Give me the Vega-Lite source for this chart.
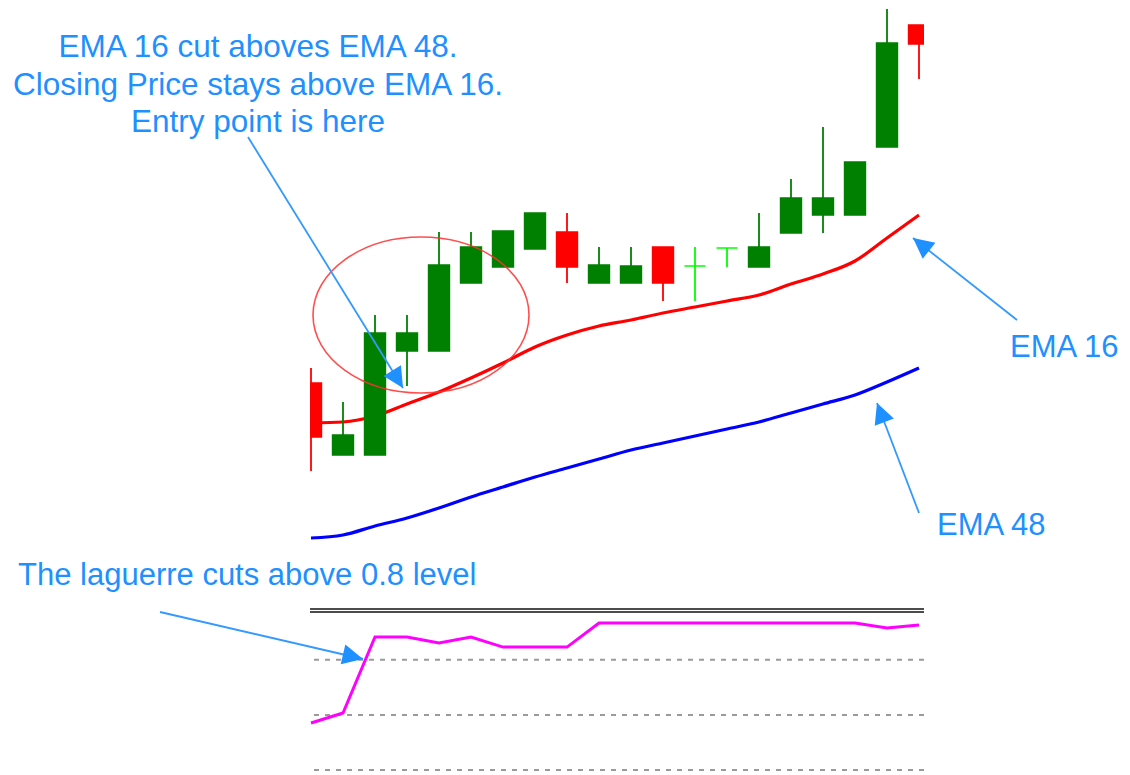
{
  "$schema": "https://vega.github.io/schema/vega-lite/v6.json",
  "width": 614,
  "height": 775,
  "autosize": {"type": "none"},
  "padding": {"left": 310, "right": 206, "top": 0, "bottom": 0},
  "background": "white",
  "config": {"view": {"stroke": null}},
  "datasets": {
    "candles": [
      {"bar": 0, "open": 1.3087, "high": 1.3102, "low": 1.2999, "close": 1.3033},
      {"bar": 1, "open": 1.3015, "high": 1.3068, "low": 1.3015, "close": 1.3035},
      {"bar": 2, "open": 1.3015, "high": 1.3155, "low": 1.3015, "close": 1.3137},
      {"bar": 3, "open": 1.3119, "high": 1.3155, "low": 1.3084, "close": 1.3137},
      {"bar": 4, "open": 1.3119, "high": 1.3238, "low": 1.3119, "close": 1.3205},
      {"bar": 5, "open": 1.3187, "high": 1.3238, "low": 1.3187, "close": 1.3223},
      {"bar": 6, "open": 1.3203, "high": 1.3239, "low": 1.3203, "close": 1.3239},
      {"bar": 7, "open": 1.3221, "high": 1.3257, "low": 1.3221, "close": 1.3257},
      {"bar": 8, "open": 1.3238, "high": 1.3257, "low": 1.3187, "close": 1.3203},
      {"bar": 9, "open": 1.3187, "high": 1.3223, "low": 1.3187, "close": 1.3205},
      {"bar": 10, "open": 1.3187, "high": 1.3223, "low": 1.3187, "close": 1.3204},
      {"bar": 11, "open": 1.3223, "high": 1.3223, "low": 1.3169, "close": 1.3187},
      {"bar": 12, "open": 1.3204, "high": 1.3223, "low": 1.3169, "close": 1.3204},
      {"bar": 13, "open": 1.3222, "high": 1.3222, "low": 1.3203, "close": 1.3222},
      {"bar": 14, "open": 1.3203, "high": 1.3257, "low": 1.3203, "close": 1.3223},
      {"bar": 15, "open": 1.3237, "high": 1.3291, "low": 1.3237, "close": 1.3272},
      {"bar": 16, "open": 1.3255, "high": 1.3343, "low": 1.3237, "close": 1.3272},
      {"bar": 17, "open": 1.3255, "high": 1.3308, "low": 1.3255, "close": 1.3308},
      {"bar": 18, "open": 1.3323, "high": 1.3461, "low": 1.3323, "close": 1.3427},
      {"bar": 19, "open": 1.3445, "high": 1.3445, "low": 1.3391, "close": 1.3426}
    ],
    "ema": [
      {"bar": 0, "ema16": 1.3047, "ema48": 1.2932},
      {"bar": 1, "ema16": 1.3048, "ema48": 1.2935},
      {"bar": 2, "ema16": 1.3054, "ema48": 1.2944},
      {"bar": 3, "ema16": 1.3066, "ema48": 1.2952},
      {"bar": 4, "ema16": 1.3078, "ema48": 1.2962},
      {"bar": 5, "ema16": 1.3092, "ema48": 1.2973},
      {"bar": 6, "ema16": 1.3107, "ema48": 1.2983},
      {"bar": 7, "ema16": 1.3123, "ema48": 1.2993},
      {"bar": 8, "ema16": 1.3135, "ema48": 1.3002},
      {"bar": 9, "ema16": 1.3144, "ema48": 1.3011},
      {"bar": 10, "ema16": 1.3150, "ema48": 1.3020},
      {"bar": 11, "ema16": 1.3157, "ema48": 1.3027},
      {"bar": 12, "ema16": 1.3163, "ema48": 1.3034},
      {"bar": 13, "ema16": 1.3169, "ema48": 1.3041},
      {"bar": 14, "ema16": 1.3175, "ema48": 1.3048},
      {"bar": 15, "ema16": 1.3186, "ema48": 1.3057},
      {"bar": 16, "ema16": 1.3196, "ema48": 1.3066},
      {"bar": 17, "ema16": 1.3209, "ema48": 1.3075},
      {"bar": 18, "ema16": 1.3232, "ema48": 1.3088},
      {"bar": 19, "ema16": 1.3255, "ema48": 1.3102}
    ],
    "laguerre": [
      {"bar": 0, "value": 0.456},
      {"bar": 1, "value": 0.510},
      {"bar": 2, "value": 0.924},
      {"bar": 3, "value": 0.924},
      {"bar": 4, "value": 0.891},
      {"bar": 5, "value": 0.924},
      {"bar": 6, "value": 0.869},
      {"bar": 7, "value": 0.869},
      {"bar": 8, "value": 0.869},
      {"bar": 9, "value": 1.0},
      {"bar": 10, "value": 1.0},
      {"bar": 11, "value": 1.0},
      {"bar": 12, "value": 1.0},
      {"bar": 13, "value": 1.0},
      {"bar": 14, "value": 1.0},
      {"bar": 15, "value": 1.0},
      {"bar": 16, "value": 1.0},
      {"bar": 17, "value": 1.0},
      {"bar": 18, "value": 0.973},
      {"bar": 19, "value": 0.989}
    ],
    "levels": [{"level": 0.8}, {"level": 0.5}, {"level": 0.2}],
    "border": [{"level": 1.076}, {"level": 1.06}],
    "callout": [
      {"label": "EMA 16 cut aboves EMA 48.", "bar": -1.65625, "price": 1.3413},
      {"label": "Closing Price stays above EMA 16.", "bar": -1.65625, "price": 1.3375},
      {"label": "Entry point is here", "bar": -1.65625, "price": 1.3338}
    ],
    "labels": [
      {"label": "EMA 16", "bar": 21.84375, "price": 1.3113},
      {"label": "EMA 48", "bar": 19.5625, "price": 1.2935},
      {"label": "The laguerre cuts above 0.8 level", "bar": -9.15625, "price": 1.2885}
    ],
    "arrows": [
      {"name": "entry", "x1": -1.96875, "y1": 1.3333, "x2": 2.875, "y2": 1.3082},
      {"name": "ema16", "x1": 22.0625, "y1": 1.3150, "x2": 18.8125, "y2": 1.3232},
      {"name": "ema48", "x1": 19.0, "y1": 1.2957, "x2": 17.6875, "y2": 1.3067},
      {"name": "laguerre", "x1": -4.71875, "y1": 1.2858, "x2": 1.625, "y2": 1.2811}
    ],
    "circle": [{"bar": 3.4375, "price": 1.3155}]
  },
  "resolve": {"scale": {"y": "independent"}},
  "layer": [
    {
      "data": {"name": "levels"},
      "mark": {"type": "rule", "color": "#9a9a9a", "strokeWidth": 2, "strokeDash": [5, 6]},
      "encoding": {
        "y": {"field": "level", "type": "quantitative", "axis": null,
              "scale": {"domain": [0.1728, 4.3905], "nice": false, "zero": false}}
      }
    },
    {
      "data": {"name": "border"},
      "mark": {"type": "rule", "color": "#111111", "strokeWidth": 1.4},
      "encoding": {
        "y": {"field": "level", "type": "quantitative", "axis": null,
              "scale": {"domain": [0.1728, 4.3905], "nice": false, "zero": false}}
      }
    },
    {
      "data": {"name": "laguerre"},
      "mark": {"type": "line", "color": "#ff00ff", "strokeWidth": 3},
      "encoding": {
        "x": {"field": "bar", "type": "quantitative", "axis": null,
              "scale": {"domain": [-0.03125, 19.15625], "nice": false, "zero": false, "padding": 0}},
        "y": {"field": "value", "type": "quantitative", "axis": null,
              "scale": {"domain": [0.1728, 4.3905], "nice": false, "zero": false}}
      }
    },
    {
      "data": {"name": "ema"},
      "mark": {"type": "line", "color": "#ff0000", "strokeWidth": 3.2, "interpolate": "monotone"},
      "encoding": {
        "x": {"field": "bar", "type": "quantitative", "axis": null,
              "scale": {"domain": [-0.03125, 19.15625], "nice": false, "zero": false, "padding": 0}},
        "y": {"field": "ema16", "type": "quantitative", "axis": null,
              "scale": {"domain": [1.2695, 1.3470], "nice": false, "zero": false}}
      }
    },
    {
      "data": {"name": "ema"},
      "mark": {"type": "line", "color": "#0000ff", "strokeWidth": 3.2, "interpolate": "monotone"},
      "encoding": {
        "x": {"field": "bar", "type": "quantitative", "axis": null,
              "scale": {"domain": [-0.03125, 19.15625], "nice": false, "zero": false, "padding": 0}},
        "y": {"field": "ema48", "type": "quantitative", "axis": null,
              "scale": {"domain": [1.2695, 1.3470], "nice": false, "zero": false}}
      }
    },
    {
      "data": {"name": "candles"},
      "mark": {"type": "rule", "strokeWidth": 1.8, "clip": true},
      "encoding": {
        "x": {"field": "bar", "type": "quantitative", "axis": null,
              "scale": {"domain": [-0.03125, 19.15625], "nice": false, "zero": false, "padding": 0}},
        "y": {"field": "low", "type": "quantitative", "axis": null,
              "scale": {"domain": [1.2695, 1.3470], "nice": false, "zero": false}},
        "y2": {"field": "high"},
        "color": {
          "condition": [
            {"test": "datum.close > datum.open", "value": "#008000"},
            {"test": "datum.close < datum.open", "value": "#ff0000"}
          ],
          "value": "#00ff00"
        }
      }
    },
    {
      "data": {"name": "candles"},
      "mark": {"type": "bar", "width": 21, "strokeWidth": 1.4, "clip": true},
      "encoding": {
        "x": {"field": "bar", "type": "quantitative", "axis": null,
              "scale": {"domain": [-0.03125, 19.15625], "nice": false, "zero": false, "padding": 0}},
        "y": {"field": "open", "type": "quantitative", "axis": null,
              "scale": {"domain": [1.2695, 1.3470], "nice": false, "zero": false}},
        "y2": {"field": "close"},
        "color": {
          "condition": [
            {"test": "datum.close > datum.open", "value": "#008000"},
            {"test": "datum.close < datum.open", "value": "#ff0000"}
          ],
          "value": "#00ff00"
        },
        "stroke": {
          "condition": [
            {"test": "datum.close > datum.open", "value": "#008000"},
            {"test": "datum.close < datum.open", "value": "#ff0000"}
          ],
          "value": "#00ff00"
        }
      }
    },
    {
      "data": {"name": "circle"},
      "mark": {"type": "point", "filled": false, "color": "#ff3030", "opacity": 0.85, "strokeWidth": 1.6,
               "shape": "M-1,0A1,0.7222,0,1,0,1,0A1,0.7222,0,1,0,-1,0Z", "size": 46656},
      "encoding": {
        "x": {"field": "bar", "type": "quantitative", "axis": null,
              "scale": {"domain": [-0.03125, 19.15625], "nice": false, "zero": false, "padding": 0}},
        "y": {"field": "price", "type": "quantitative", "axis": null,
              "scale": {"domain": [1.2695, 1.3470], "nice": false, "zero": false}}
      }
    },
    {
      "data": {"name": "arrows"},
      "mark": {"type": "rule", "color": "#3399ff", "strokeWidth": 1.8},
      "encoding": {
        "x": {"field": "x1", "type": "quantitative", "axis": null,
              "scale": {"domain": [-0.03125, 19.15625], "nice": false, "zero": false, "padding": 0}},
        "y": {"field": "y1", "type": "quantitative", "axis": null,
              "scale": {"domain": [1.2695, 1.3470], "nice": false, "zero": false}},
        "x2": {"field": "x2"},
        "y2": {"field": "y2"}
      }
    },
    {
      "data": {"name": "arrows"},
      "transform": [{"filter": "datum.name == 'entry'"}],
      "mark": {"type": "point", "filled": true, "color": "#1e90ff", "opacity": 1, "shape": "M0,0L1,2L-1,2Z", "size": 420, "angle": 148.3},
      "encoding": {
        "x": {"field": "x2", "type": "quantitative", "axis": null,
              "scale": {"domain": [-0.03125, 19.15625], "nice": false, "zero": false, "padding": 0}},
        "y": {"field": "y2", "type": "quantitative", "axis": null,
              "scale": {"domain": [1.2695, 1.3470], "nice": false, "zero": false}}
      }
    },
    {
      "data": {"name": "arrows"},
      "transform": [{"filter": "datum.name == 'ema16'"}],
      "mark": {"type": "point", "filled": true, "color": "#1e90ff", "opacity": 1, "shape": "M0,0L1,2L-1,2Z", "size": 420, "angle": 308.3},
      "encoding": {
        "x": {"field": "x2", "type": "quantitative", "axis": null,
              "scale": {"domain": [-0.03125, 19.15625], "nice": false, "zero": false, "padding": 0}},
        "y": {"field": "y2", "type": "quantitative", "axis": null,
              "scale": {"domain": [1.2695, 1.3470], "nice": false, "zero": false}}
      }
    },
    {
      "data": {"name": "arrows"},
      "transform": [{"filter": "datum.name == 'ema48'"}],
      "mark": {"type": "point", "filled": true, "color": "#1e90ff", "opacity": 1, "shape": "M0,0L1,2L-1,2Z", "size": 420, "angle": 339.1},
      "encoding": {
        "x": {"field": "x2", "type": "quantitative", "axis": null,
              "scale": {"domain": [-0.03125, 19.15625], "nice": false, "zero": false, "padding": 0}},
        "y": {"field": "y2", "type": "quantitative", "axis": null,
              "scale": {"domain": [1.2695, 1.3470], "nice": false, "zero": false}}
      }
    },
    {
      "data": {"name": "arrows"},
      "transform": [{"filter": "datum.name == 'laguerre'"}],
      "mark": {"type": "point", "filled": true, "color": "#1e90ff", "opacity": 1, "shape": "M0,0L1,2L-1,2Z", "size": 420, "angle": 103},
      "encoding": {
        "x": {"field": "x2", "type": "quantitative", "axis": null,
              "scale": {"domain": [-0.03125, 19.15625], "nice": false, "zero": false, "padding": 0}},
        "y": {"field": "y2", "type": "quantitative", "axis": null,
              "scale": {"domain": [1.2695, 1.3470], "nice": false, "zero": false}}
      }
    },
    {
      "data": {"name": "callout"},
      "mark": {"type": "text", "align": "center", "baseline": "alphabetic", "font": "Liberation Sans", "fontSize": 31.5, "color": "#1e90ff"},
      "encoding": {
        "x": {"field": "bar", "type": "quantitative", "axis": null,
              "scale": {"domain": [-0.03125, 19.15625], "nice": false, "zero": false, "padding": 0}},
        "y": {"field": "price", "type": "quantitative", "axis": null,
              "scale": {"domain": [1.2695, 1.3470], "nice": false, "zero": false}},
        "text": {"field": "label"}
      }
    },
    {
      "data": {"name": "labels"},
      "mark": {"type": "text", "align": "left", "baseline": "alphabetic", "font": "Liberation Sans", "fontSize": 31, "color": "#1e90ff"},
      "encoding": {
        "x": {"field": "bar", "type": "quantitative", "axis": null,
              "scale": {"domain": [-0.03125, 19.15625], "nice": false, "zero": false, "padding": 0}},
        "y": {"field": "price", "type": "quantitative", "axis": null,
              "scale": {"domain": [1.2695, 1.3470], "nice": false, "zero": false}},
        "text": {"field": "label"}
      }
    }
  ]
}
